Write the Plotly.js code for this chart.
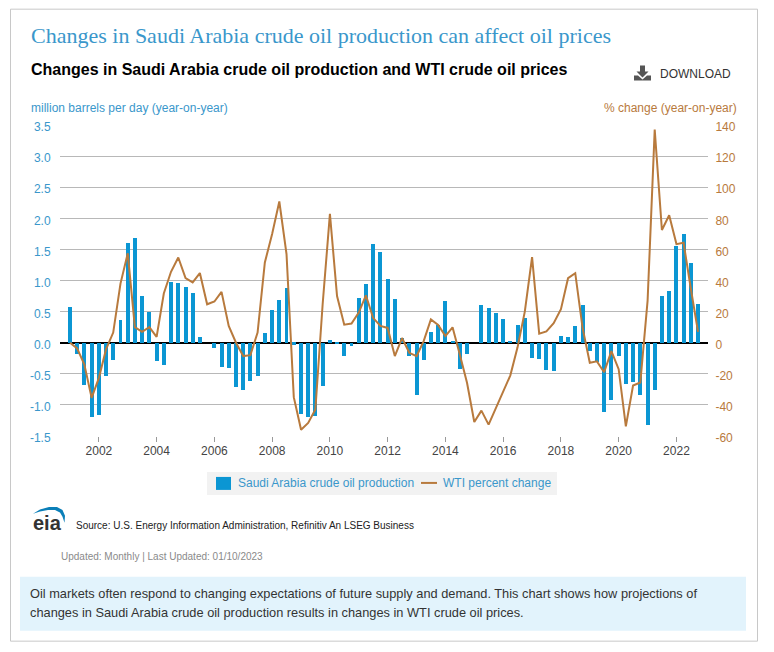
<!DOCTYPE html>
<html>
<head>
<meta charset="utf-8">
<script src="https://cdn.plot.ly/plotly-3.0.1.min.js"></script>
<style>
html, body { margin: 0; padding: 0; background: #fff; }
</style>
</head>
<body>
<div id="chart" style="width:774px;height:652px;"></div>
<script>
// quarterly, first month of each quarter
let quarters = [
  "2001-01-01","2001-04-01","2001-07-01","2001-10-01",
  "2002-01-01","2002-04-01","2002-07-01","2002-10-01",
  "2003-01-01","2003-04-01","2003-07-01","2003-10-01",
  "2004-01-01","2004-04-01","2004-07-01","2004-10-01",
  "2005-01-01","2005-04-01","2005-07-01","2005-10-01",
  "2006-01-01","2006-04-01","2006-07-01","2006-10-01",
  "2007-01-01","2007-04-01","2007-07-01","2007-10-01",
  "2008-01-01","2008-04-01","2008-07-01","2008-10-01",
  "2009-01-01","2009-04-01","2009-07-01","2009-10-01",
  "2010-01-01","2010-04-01","2010-07-01","2010-10-01",
  "2011-01-01","2011-04-01","2011-07-01","2011-10-01",
  "2012-01-01","2012-04-01","2012-07-01","2012-10-01",
  "2013-01-01","2013-04-01","2013-07-01","2013-10-01",
  "2014-01-01","2014-04-01","2014-07-01","2014-10-01",
  "2015-01-01","2015-04-01","2015-07-01","2015-10-01",
  "2016-01-01","2016-04-01","2016-07-01","2016-10-01",
  "2017-01-01","2017-04-01","2017-07-01","2017-10-01",
  "2018-01-01","2018-04-01","2018-07-01","2018-10-01",
  "2019-01-01","2019-04-01","2019-07-01","2019-10-01",
  "2020-01-01","2020-04-01","2020-07-01","2020-10-01",
  "2021-01-01","2021-04-01","2021-07-01","2021-10-01",
  "2022-01-01","2022-04-01","2022-07-01","2022-10-01"
];

let saudi_production = [
  0.57,-0.18,-0.68,-1.20,
  -1.17,-0.54,-0.28,0.36,
  1.60,1.69,0.75,0.50,
  -0.30,-0.36,0.97,0.96,
  0.89,0.80,0.09,0.00,
  -0.09,-0.39,-0.41,-0.71,
  -0.76,-0.62,-0.54,0.16,
  0.53,0.69,0.88,-0.03,
  -1.14,-1.20,-1.18,-0.70,
  0.05,-0.02,-0.22,-0.06,
  0.72,0.95,1.59,1.46,
  1.03,0.70,0.08,-0.22,
  -0.84,-0.28,0.17,0.28,
  0.67,0.03,-0.42,-0.18,
  0.00,0.61,0.56,0.48,
  0.38,0.03,0.28,0.40,
  -0.25,-0.26,-0.44,-0.46,
  0.11,0.09,0.27,0.61,
  -0.13,-0.31,-1.12,-0.92,
  -0.21,-0.67,-0.63,-0.84,
  -1.33,-0.76,0.75,0.83,
  1.56,1.75,1.28,0.62
];

let wti_change = [
  0,-3.7,-14,-35.5,
  -22.6,-4.3,6.5,38,
  57.5,10,7,10,
  3.7,31.6,45.6,54.8,
  41.6,38.8,44.8,24.7,
  26.5,32.7,10.8,0,
  -8.6,-8,6.5,51.6,
  69.9,90.8,57,-35,
  -56,-51.6,-43,24.7,
  82.8,30,11.6,12.3,
  19.4,30.5,16,10.8,
  9.5,-8.6,3,-6.5,
  -8.6,1,15,11.4,
  4.3,9.9,-7.5,-25.8,
  -51,-43.7,-52.7,-42,
  -32,-21,-3,20,
  55,5.8,7.3,12.5,
  21.5,41.5,44.7,9.7,
  -12.9,-12,-19,-5.4,
  -17,-53.8,-27.5,-25.6,
  27,137,72.5,82,
  63.4,64.3,35,7
];

let left_ticks = [-1.5,-1,-0.5,0,0.5,1,1.5,2,2.5,3,3.5];
let left_labels = ["-1.5","-1.0","-0.5","0.0","0.5","1.0","1.5","2.0","2.5","3.0","3.5"];
let right_ticks = [-60,-40,-20,0,20,40,60,80,100,120,140];
let right_labels = ["-60","-40","-20","0","20","40","60","80","100","120","140"];

let blue = "#3a97cb";
let brown = "#b87a3d";
let bar_blue = "#0b96d3";
let arial = "Liberation Sans, Arial, sans-serif";

// plot area in window pixels, page furniture is placed with these
let plot_left = 60, plot_right = 708, plot_top = 124.5, plot_bottom = 436;
function px(x) { return (x - plot_left) / (plot_right - plot_left); }
function py(y) { return (plot_bottom - y) / (plot_bottom - plot_top); }

function note(text, x, y, size, color, family, anchor) {
  return {
    text: text,
    xref: "paper", yref: "paper",
    x: px(x), y: py(y),
    xanchor: anchor || "left", yanchor: "middle",
    showarrow: false,
    align: "left",
    font: {size: size, color: color, family: family || arial}
  };
}

function box(x0, y0, x1, y1, fill, line) {
  return {
    type: "rect", layer: "below",
    xref: "paper", yref: "paper",
    x0: px(x0), x1: px(x1), y0: py(y0), y1: py(y1),
    fillcolor: fill,
    line: line ? {color: line, width: 1} : {width: 0}
  };
}

function path(points, fill, line, width) {
  let d = points.map(function (p, i) {
    return (i === 0 ? "M" : "L") + px(p[0]) + "," + py(p[1]);
  }).join(" ");
  return {
    type: "path", layer: "above",
    xref: "paper", yref: "paper",
    path: d + (fill ? " Z" : ""),
    fillcolor: fill || "rgba(0,0,0,0)",
    line: {color: line || fill, width: width || 0}
  };
}

let production = {
  x: quarters,
  y: saudi_production,
  type: "bar",
  name: "Saudi Arabia crude oil production",
  width: 50 * 86400000,
  marker: {color: bar_blue},
  yaxis: "y"
};

let wti = {
  x: quarters,
  y: wti_change,
  type: "scatter",
  mode: "lines",
  name: "WTI percent change",
  line: {color: brown, width: 2},
  yaxis: "y2"
};

let layout = {
  width: 774,
  height: 652,
  paper_bgcolor: "rgba(0,0,0,0)",
  plot_bgcolor: "rgba(0,0,0,0)",
  margin: {l: plot_left, r: 774 - plot_right, t: plot_top, b: 652 - plot_bottom, pad: 0},
  font: {family: arial, size: 12},
  bargap: 0,
  xaxis: {
    type: "date",
    range: ["2000-08-27", "2023-02-04"],
    tick0: "2002-01-01",
    dtick: "M24",
    tickformat: "%Y",
    ticks: "outside",
    ticklen: 5,
    tickcolor: "#999999",
    tickfont: {size: 12, color: "#444444"},
    ticklabelstandoff: -1,
    showgrid: false,
    showline: false,
    zeroline: false,
    fixedrange: true
  },
  yaxis: {
    range: [-1.5, 3.5],
    tickvals: left_ticks,
    ticktext: left_labels,
    tickfont: {size: 12, color: blue},
    ticklabelshift: 2,
    gridcolor: "#b8b8b8",
    gridwidth: 1,
    zeroline: true,
    zerolinecolor: "#000000",
    zerolinewidth: 2,
    ticks: "outside",
    ticklen: 6,
    tickcolor: "rgba(0,0,0,0)",
    fixedrange: true
  },
  yaxis2: {
    overlaying: "y",
    side: "right",
    range: [-60, 140],
    tickvals: right_ticks,
    ticktext: right_labels,
    tickfont: {size: 12, color: brown},
    ticklabelshift: 2,
    showgrid: false,
    zeroline: false,
    ticks: "outside",
    ticklen: 4,
    tickcolor: "rgba(0,0,0,0)",
    fixedrange: true
  },
  showlegend: false,
  annotations: [
    note("Changes in Saudi Arabia crude oil production can affect oil prices", 29, 35, 22, "#3a97cb", "Liberation Serif, Times New Roman, serif"),
    note("<b>Changes in Saudi Arabia crude oil production and WTI crude oil prices</b>", 29, 69, 16, "#000000"),
    note("DOWNLOAD", 658, 73, 12, "#333333"),
    note("million barrels per day (year-on-year)", 29, 107, 12, blue),
    note("% change (year-on-year)", 739, 107, 12, brown, arial, "right"),
    note("Saudi Arabia crude oil production", 235.5, 483, 12, blue),
    note("WTI percent change", 441, 483, 12, blue),
    note("<b>eia</b>", 31, 523, 20, "#333333"),
    note("Source: U.S. Energy Information Administration, Refinitiv An LSEG Business", 74, 526, 10, "#222222"),
    note("Updated: Monthly | Last Updated: 01/10/2023", 59, 557, 10, "#8a8a8a"),
    note("Oil markets often respond to changing expectations of future supply and demand. This chart shows how projections of", 28, 594, 12.8, "#333333"),
    note("changes in Saudi Arabia crude oil production results in changes in WTI crude oil prices.", 28, 613, 12.8, "#333333")
  ],
  shapes: [
    box(10.5, 8.5, 757.5, 641.5, "#ffffff", "#c8c8c8"),
    box(20, 577, 746, 631, "#e2f3fc"),
    // legend
    box(207, 472, 557, 495, "#f2f2f2"),
    box(216, 477, 231, 490, bar_blue),
    box(421, 482, 437, 484, brown),
    // download icon
    path([[640,65],[645,65],[645,71],[648.5,71],[642.5,77],[636.5,71],[640,71]], "#555555"),
    path([[634,75],[638,75],[642.5,79],[647,75],[651,75],[651,80],[634,80]], "#555555"),
    // eia logo arc
    path([[33,514],[40,509.5],[49,507],[57,507],[62.5,510],[65,516],[64.5,523],[62.5,517],[60,512.5],[55,510],[48,510],[40,511.5]], "#0b7fb8")
  ]
};

Plotly.newPlot("chart", [production, wti], layout, {displayModeBar: false, responsive: false});
</script>
</body>
</html>
